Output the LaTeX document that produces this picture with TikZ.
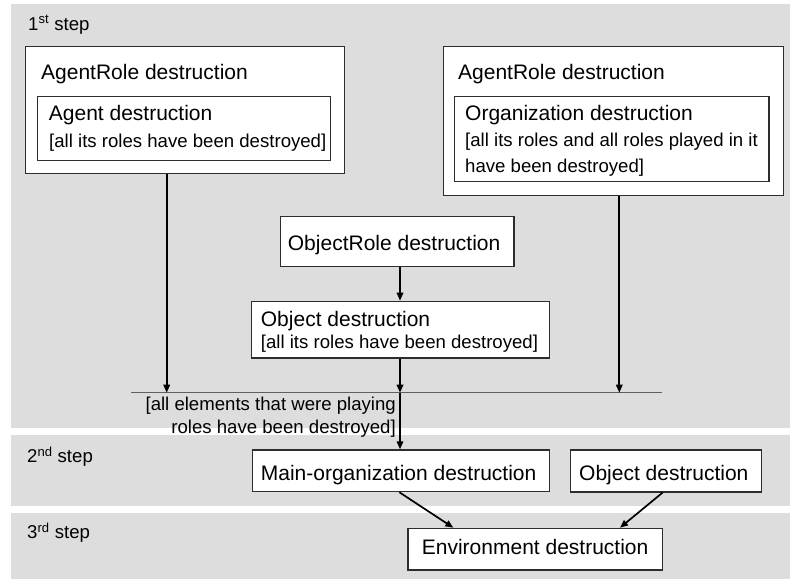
\documentclass[tikz,border=0pt]{standalone}
\usepackage{fontspec}
\setmainfont{Liberation Sans}
\usetikzlibrary{arrows.meta}
\definecolor{bandgray}{RGB}{221,221,221}
\definecolor{edge}{RGB}{45,45,45}
\definecolor{barcol}{RGB}{95,95,95}
\begin{document}
\begin{tikzpicture}[x=1pt,y=-1pt,
  band/.style={fill=bandgray,draw=none},
  box/.style={draw=edge,fill=white,line width=1.2pt,inner sep=0pt,anchor=north west},
  big/.style={font=\fontsize{21}{25}\selectfont,inner sep=0pt,anchor=base west},
  small/.style={font=\fontsize{18.6}{26}\selectfont,inner sep=0pt,anchor=base west},
  smallr/.style={small,anchor=base east},
  arr/.style={-{Triangle[width=6.5pt,length=8pt]},line width=1.7pt,black},
  barline/.style={draw=barcol,line width=1.4pt}]
\useasboundingbox (0,0) rectangle (790,579);
\fill[white] (0,0) rectangle (790,579);

% step bands
\fill[band] (11,4) rectangle (790,428);
\fill[band] (11,435) rectangle (790,505.7);
\fill[band] (11,513.3) rectangle (790,579);

\node[small] (s1) at (28,30) {1\textsuperscript{st} step};
\node[small] (s2) at (27,462.7) {2\textsuperscript{nd} step};
\node[small] (s3) at (27,538.3) {3\textsuperscript{rd} step};

% first step: agent roles and agents
\node[box,minimum width=319pt,minimum height=127pt] (ar1) at (25,46) {};
\node[big] (ar1t) at (41,79) {AgentRole destruction};
\node[box,minimum width=293pt,minimum height=64pt] (ag) at (37,96) {};
\node[big] (agt) at (48.7,120.7) {Agent destruction};
\node[small] (agc) at (49,147) {[all its roles have been destroyed]};

% first step: agent roles and organizations
\node[box,minimum width=340.5pt,minimum height=149pt] (ar2) at (442.5,46) {};
\node[big] (ar2t) at (458,79) {AgentRole destruction};
\node[box,minimum width=314.3pt,minimum height=85pt] (org) at (454,96) {};
\node[big] (orgt) at (465,120.7) {Organization destruction};
\node[small] (orgc1) at (465,146) {[all its roles and all roles played in it};
\node[small] (orgc2) at (465,172.3) {have been destroyed]};

% first step: object roles and objects
\node[box,minimum width=233.3pt,minimum height=50pt] (orole) at (280,215.7) {};
\node[big] (orolet) at (287.7,250) {ObjectRole destruction};
\node[box,minimum width=298pt,minimum height=56.6pt] (obj) at (251,300.7) {};
\node[big] (objt) at (260.7,326) {Object destruction};
\node[small] (objc) at (260.7,348.3) {[all its roles have been destroyed]};

% join bar and its guard
\coordinate (barL) at (131,392.7);
\coordinate (barR) at (662,392.7);
\node[smallr] (g1) at (396,410.7) {[all elements that were playing};
\node[smallr] (g2) at (396,433.3) {roles have been destroyed]};

% second and third steps
\node[box,minimum width=297.3pt,minimum height=41.7pt] (mainorg) at (251.7,449.3) {};
\node[big] (mainorgt) at (260.7,480) {Main-organization destruction};
\node[box,minimum width=191pt,minimum height=42pt] (obj2) at (570,449.3) {};
\node[big] (obj2t) at (579,480) {Object destruction};
\node[box,minimum width=254.4pt,minimum height=41.6pt] (env) at (407.3,527.7) {};
\node[big] (envt) at (421.7,554.3) {Environment destruction};

% connector columns
\coordinate (xL) at (166.7,0);
\coordinate (xM) at (400,0);
\coordinate (xR) at (619.3,0);
\coordinate (m1) at (399.3,0);
\coordinate (e1) at (453.3,0);
\coordinate (o2) at (662.7,0);
\coordinate (e2) at (620,0);

\draw[barline] (barL) -- (barR);
\draw[arr] (ar1.south -| xL) -- (barL -| xL);
\draw[arr] (ar2.south -| xR) -- (barL -| xR);
\draw[arr] (orole.south -| xM) -- (obj.north -| xM);
\draw[arr] (obj.south -| xM) -- (barL -| xM);
\draw[arr] (barL -| xM) -- (mainorg.north -| xM);
\draw[arr] (mainorg.south -| m1) -- (env.north -| e1);
\draw[arr] (obj2.south -| o2) -- (env.north -| e2);
\end{tikzpicture}
\end{document}
